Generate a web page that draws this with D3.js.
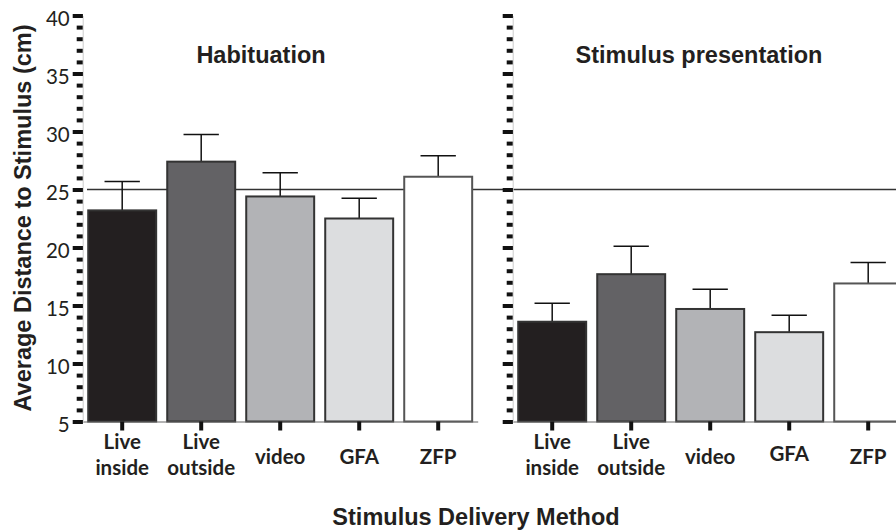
<!DOCTYPE html>
<html>
<head>
<meta charset="utf-8">
<script src="https://cdn.jsdelivr.net/npm/d3@7"></script>
<style>
  body { margin: 0; background: #fff; }
  svg { display: block; }
  .bold { font-family: "Liberation Sans", Arial, sans-serif; font-weight: bold; }
  .cat { font-family: Lato, "Open Sans", sans-serif; font-weight: bold; }
</style>
</head>
<body>
<div id="chart"></div>
<script>
// categories and values
var categories = ["Live inside", "Live outside", "video", "GFA", "ZFP"];
var catLines = [["Live", "inside"], ["Live", "outside"], ["video"], ["GFA"], ["ZFP"]];
var panels = ["Habituation", "Stimulus presentation"];
var habMean = [23.2, 27.4, 24.4, 22.5, 26.1];
var habErr  = [2.5, 2.35, 2.05, 1.75, 1.8];
var stimMean = [13.6, 17.7, 14.7, 12.7, 16.9];
var stimErr  = [1.6, 2.4, 1.7, 1.45, 1.8];
var fills = ["#231f20", "#636265", "#b2b3b6", "#dcdddf", "#ffffff"];
var yTicks = [5, 10, 15, 20, 25, 30, 35, 40];
var refValue = 25;

var width = 896, height = 530;
var svg = d3.select("#chart").append("svg")
	.attr("width", width)
	.attr("height", height);

var y = d3.scaleLinear().domain([5, 40]).range([421.5, 15.5]);

var panelLeft = [82.7, 512.7];
var panelW = 395;
var series = [[habMean, habErr], [stimMean, stimErr]];

// reference line at 25 (drawn first, runs across both panels)
svg.append("line")
	.attr("x1", 87)
	.attr("x2", width)
	.attr("y1", y(refValue))
	.attr("y2", y(refValue))
	.attr("stroke", "#333")
	.attr("stroke-width", 1.5);

panels.forEach(function(title, p) {
	var x0 = panelLeft[p];
	var x = d3.scaleBand()
		.domain(categories)
		.range([x0, x0 + panelW])
		.paddingInner(0.14)
		.paddingOuter(0.07);

	var g = svg.append("g");
	var means = series[p][0], errs = series[p][1];
	var bw = x.bandwidth();

	// error bars (upper only)
	categories.forEach(function(c, i) {
		var cx = x(c) + bw / 2;
		g.append("line")
			.attr("x1", cx).attr("x2", cx)
			.attr("y1", y(means[i])).attr("y2", y(means[i] + errs[i]))
			.attr("stroke", "#111").attr("stroke-width", 1.5);
		g.append("line")
			.attr("x1", cx - bw * 0.26).attr("x2", cx + bw * 0.26)
			.attr("y1", y(means[i] + errs[i])).attr("y2", y(means[i] + errs[i]))
			.attr("stroke", "#111").attr("stroke-width", 1.5);
	});

	g.selectAll("rect.bar")
		.data(categories)
		.enter().append("rect")
		.attr("class", "bar")
		.attr("x", function(d) { return x(d); })
		.attr("width", bw)
		.attr("y", function(d, i) { return y(means[i]); })
		.attr("height", function(d, i) { return y(5) - y(means[i]); })
		.attr("fill", function(d, i) { return fills[i]; })
		.attr("stroke", function(d, i) { return i == 4 ? "#555" : "#333"; })
		.attr("stroke-width", 2);

	// bottom axis
	var xAxis = g.append("g")
		.attr("transform", "translate(0," + y(5) + ")")
		.call(d3.axisBottom(x).tickSize(9).tickSizeOuter(0).tickFormat(""));
	xAxis.select(".domain").attr("stroke", "#666").attr("stroke-width", 1);
	xAxis.selectAll(".tick line").attr("stroke", "#111").attr("stroke-width", 4);

	// category labels
	categories.forEach(function(c, i) {
		var lines = catLines[i];
		var cx = x(c) + bw / 2;
		var t = g.append("text")
			.attr("class", "cat")
			.attr("text-anchor", "middle")
			.attr("fill", "#231f20")
			.style("font-size", "20.5px");
		if (lines.length == 2) {
			t.append("tspan").attr("x", cx).attr("y", 449).text(lines[0]);
			t.append("tspan").attr("x", cx).attr("y", 475).text(lines[1]);
		} else {
			var by = (p == 1 && c == "GFA") ? 460.5 : 463.5;
			t.append("tspan").attr("x", cx).attr("y", by).text(lines[0]);
		}
	});

	// left axis: minor ticks every 1 cm, major every 5
	var minor = g.append("g")
		.attr("transform", "translate(" + x0 + ",0)")
		.call(d3.axisLeft(y).tickValues(d3.range(5, 41)).tickSize(6).tickSizeOuter(0).tickFormat(""));
	minor.select(".domain").attr("stroke", "#ccc").attr("stroke-width", 1);
	minor.selectAll(".tick line").attr("stroke", "#111").attr("stroke-width", 4);

	var major = g.append("g")
		.attr("transform", "translate(" + x0 + ",0)")
		.call(d3.axisLeft(y).tickValues(yTicks).tickSize(10).tickSizeOuter(0)
			.tickFormat(p == 0 ? d3.format("d") : ""));
	major.select(".domain").remove();
	major.selectAll(".tick line").attr("stroke", "#111").attr("stroke-width", 4);
	major.selectAll(".tick text")
		.attr("x", -13)
		.attr("dy", "0.5em")
		.attr("fill", "#231f20")
		.style("font-family", "Lato, 'Open Sans', sans-serif")
		.style("font-size", "20.5px");

	// panel title
	svg.append("text")
		.attr("class", "bold")
		.attr("x", p == 0 ? 261 : 699)
		.attr("y", 63)
		.attr("text-anchor", "middle")
		.attr("fill", "#231f20")
		.style("font-size", "23.5px")
		.text(title);
});

// y axis title
svg.append("text")
	.attr("class", "bold")
	.attr("transform", "translate(31,218) rotate(-90)")
	.attr("text-anchor", "middle")
	.attr("fill", "#231f20")
	.style("font-size", "23.5px")
	.text("Average Distance to Stimulus (cm)");

// x axis title
svg.append("text")
	.attr("class", "bold")
	.attr("x", 476)
	.attr("y", 525)
	.attr("text-anchor", "middle")
	.attr("fill", "#231f20")
	.style("font-size", "23.5px")
	.text("Stimulus Delivery Method");
</script>
</body>
</html>
